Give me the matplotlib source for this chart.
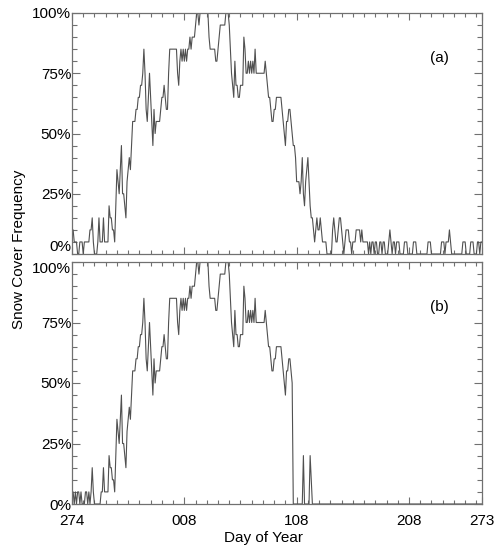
import numpy as np
import matplotlib
matplotlib.use("Agg")
import matplotlib.pyplot as plt
from matplotlib.ticker import MultipleLocator, FixedLocator

plt.rcParams['font.family'] = ['Liberation Sans', 'DejaVu Sans']

# Tick labels (day of year) and their positions in days since 1 Oct
xtick_pos = [0, 100, 200, 300, 365]
xtick_labels = ['274', '008', '108', '208', '273']

# Snow cover frequency (%) for each day, panel (a)
freq_a = [
    10, 10, 5, 5, 5, 0, 0, 5, 5, 5,
    0, 5, 5, 5, 5, 5, 10, 10, 15, 5,
    0, 0, 0, 5, 15, 5, 5, 5, 15, 5,
    5, 5, 5, 20, 15, 15, 10, 10, 5, 20,
    35, 30, 25, 35, 45, 25, 25, 20, 15, 30,
    35, 40, 35, 45, 55, 55, 55, 60, 60, 65,
    65, 70, 70, 75, 85, 75, 60, 55, 65, 75,
    65, 55, 45, 60, 50, 55, 55, 55, 55, 60,
    65, 65, 70, 65, 60, 60, 75, 85, 85, 85,
    85, 85, 85, 85, 75, 70, 80, 85, 80, 85,
    80, 85, 80, 85, 85, 90, 85, 90, 90, 90,
    95, 100, 100, 95, 100, 100, 100, 100, 100, 100,
    100, 100, 90, 85, 85, 85, 85, 85, 80, 80,
    85, 90, 95, 95, 95, 95, 95, 100, 100, 100,
    95, 85, 75, 70, 65, 80, 70, 70, 65, 65,
    70, 70, 70, 90, 85, 75, 75, 80, 75, 80,
    75, 80, 75, 85, 75, 75, 75, 75, 75, 75,
    75, 75, 80, 75, 70, 65, 65, 60, 55, 55,
    60, 60, 65, 65, 65, 65, 65, 60, 55, 50,
    45, 55, 55, 60, 60, 55, 50, 45, 45, 40,
    30, 30, 30, 25, 30, 40, 25, 20, 30, 35,
    40, 30, 20, 15, 15, 10, 5, 10, 15, 10,
    10, 15, 10, 5, 5, 5, 5, 0, 0, 0,
    0, 0, 10, 15, 10, 5, 5, 10, 15, 15,
    10, 5, 0, 5, 10, 10, 10, 5, 5, 0,
    5, 5, 5, 10, 10, 10, 10, 5, 10, 5,
    5, 5, 5, 5, 0, 5, 0, 5, 5, 0,
    5, 5, 0, 0, 5, 5, 0, 5, 5, 0,
    0, 0, 5, 10, 5, 0, 5, 5, 0, 5,
    5, 5, 0, 0, 0, 0, 5, 5, 5, 0,
    0, 0, 0, 0, 5, 5, 5, 0, 0, 0,
    0, 0, 0, 0, 0, 0, 0, 5, 5, 5,
    0, 0, 0, 0, 0, 0, 0, 0, 0, 5,
    5, 5, 0, 5, 5, 5, 10, 5, 0, 0,
    0, 0, 0, 0, 0, 0, 0, 0, 5, 5,
    5, 0, 0, 0, 0, 5, 5, 5, 0, 0,
    0, 5, 5, 0, 5, 5,
]

# Snow cover frequency (%) for each day, panel (b)
freq_b = [
    5, 5, 0, 5, 0, 5, 5, 0, 5, 0,
    0, 0, 5, 5, 0, 5, 0, 5, 15, 5,
    0, 0, 0, 0, 0, 0, 5, 5, 15, 5,
    5, 5, 5, 20, 15, 15, 10, 10, 5, 20,
    35, 30, 25, 35, 45, 25, 25, 20, 15, 30,
    35, 40, 35, 45, 55, 55, 55, 60, 60, 65,
    65, 70, 70, 75, 85, 75, 60, 55, 65, 75,
    65, 55, 45, 60, 50, 55, 55, 55, 55, 60,
    65, 65, 70, 65, 60, 60, 75, 85, 85, 85,
    85, 85, 85, 85, 75, 70, 80, 85, 80, 85,
    80, 85, 80, 85, 85, 90, 85, 90, 90, 90,
    95, 100, 100, 95, 100, 100, 100, 100, 100, 100,
    100, 100, 90, 85, 85, 85, 85, 85, 80, 80,
    85, 90, 95, 95, 95, 95, 95, 100, 100, 100,
    95, 85, 75, 70, 65, 80, 70, 70, 65, 65,
    70, 70, 70, 90, 85, 75, 75, 80, 75, 80,
    75, 80, 75, 85, 75, 75, 75, 75, 75, 75,
    75, 75, 80, 75, 70, 65, 65, 60, 55, 55,
    60, 60, 65, 65, 65, 65, 65, 60, 55, 50,
    45, 55, 55, 60, 60, 55, 50, 0, 0, 0,
    0, 0, 0, 0, 0, 0, 20, 0, 0, 0,
    0, 0, 20, 10, 0, 0, 0, 0, 0, 0,
] + [0] * 146

ytick_vals = [0, 25, 50, 75, 100]
ytick_labels = ['0%', '25%', '50%', '75%', '100%']
panel_labels = ['(a)', '(b)']

days = np.arange(len(freq_a))

fig = plt.figure(figsize=(5.0, 5.5), dpi=100)
ax_a = fig.add_axes([72 / 500, 1 - 254 / 550, 410 / 500, 241 / 550])
ax_b = fig.add_axes([72 / 500, 1 - 504 / 550, 410 / 500, 242 / 550])

spine_col = '#707070'
line_col = '#505050'

for ax, vals, lab, show_x in [(ax_a, freq_a, panel_labels[0], False),
                               (ax_b, freq_b, panel_labels[1], True)]:
    ax.plot(days[:len(vals)], vals, color=line_col, lw=0.8)
    ax.set_xlim(0, 365)
    ax.set_ylim(0, 100)
    ax.xaxis.set_major_locator(FixedLocator(xtick_pos))
    ax.xaxis.set_minor_locator(MultipleLocator(10))
    ax.yaxis.set_major_locator(FixedLocator(ytick_vals))
    ax.yaxis.set_minor_locator(MultipleLocator(5))
    ax.set_yticklabels(ytick_labels)
    if show_x:
        ax.set_xticklabels(xtick_labels)
    else:
        ax.set_xticklabels([])
    ax.tick_params(axis='both', which='both', direction='in', top=True, right=True,
                   color=spine_col, labelsize=11, width=0.8)
    ax.tick_params(axis='x', which='major', length=5, pad=7)
    ax.tick_params(axis='x', which='minor', length=3)
    ax.tick_params(axis='y', which='major', length=6, pad=0.5)
    ax.tick_params(axis='y', which='minor', length=3.5)
    for s in ax.spines.values():
        s.set_color(spine_col)
        s.set_linewidth(0.9)
    ax.text(0.895, 0.815, lab, transform=ax.transAxes, fontsize=11,
            ha='center', va='center')

# keep the touching labels of the two panels apart, as in the reference
ax_a.get_yticklabels()[0].set_va('bottom')
ax_b.get_yticklabels()[-1].set_va('top')

fig.text(19 / 500, 1 - 249 / 550, 'Snow Cover Frequency', rotation=90,
         ha='center', va='center', fontsize=11)
fig.text(264 / 500, 1 - 538 / 550, 'Day of Year', ha='center', va='center',
         fontsize=11)

fig.savefig('out.png', dpi=100)
